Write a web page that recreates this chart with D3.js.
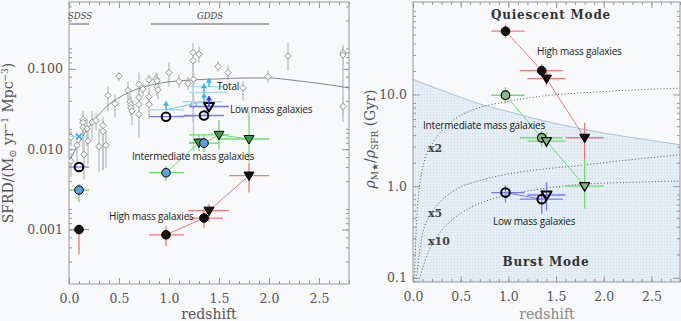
<!DOCTYPE html>
<html>
<head>
<meta charset="utf-8">
<script src="https://cdn.jsdelivr.net/npm/d3@7"></script>
<style>
body{margin:0;background:#f8f9fb;}
svg{display:block;}
.axis path,.axis line{stroke:#999;}
.axis text{font-family:"DejaVu Serif",serif;font-size:12.5px;fill:#555;}
.note{font-family:"Open Sans",sans-serif;font-size:10px;fill:#222;letter-spacing:-0.2px;}
.mode{font-family:"DejaVu Serif",serif;font-size:12px;font-weight:600;fill:#333;letter-spacing:0.8px;}
.fac{font-family:"DejaVu Serif",serif;font-size:11px;font-weight:bold;fill:#444;}
.lab{font-family:"DejaVu Serif",serif;font-size:14px;fill:#555;}
</style>
</head>
<body>
<svg width="681" height="321"></svg>
<script>
// ---- left panel: SFRD compilation (grey diamonds)
var compZ    = [0.02, 0.02, 0.08, 0.14, 0.14, 0.14, 0.15, 0.18, 0.19, 0.23, 0.27, 0.30, 0.34, 0.34, 0.37, 0.39, 0.46, 0.50, 0.59, 0.61, 0.62, 0.62, 0.63, 0.70, 0.70, 0.70, 0.70, 0.74, 0.80, 0.80, 0.80, 0.87, 0.88, 0.88, 0.89, 1.00, 1.10, 1.19, 1.24, 1.24, 1.245, 1.245, 1.30, 1.49, 1.59, 1.74, 1.99, 2.19, 2.74, 2.74, 2.74];
var compSFRD = [0.0141, 0.0071, 0.0112, 0.0233, 0.0215, 0.0187, 0.0086, 0.018, 0.0127, 0.0217, 0.0228, 0.0108, 0.0198, 0.0167, 0.0112, 0.0466, 0.0368, 0.081, 0.054, 0.039, 0.036, 0.033, 0.030, 0.064, 0.044, 0.036, 0.027, 0.056, 0.073, 0.045, 0.036, 0.075, 0.071, 0.060, 0.055, 0.090, 0.070, 0.066, 0.16, 0.127, 0.074, 0.036, 0.152, 0.107, 0.090, 0.058, 0.080, 0.145, 0.159, 0.149, 0.034];
var compLo   = [0.011, 0.0045, 0.006, 0.015, 0.012, 0.008, 0.0042, 0.011, 0.0065, 0.013, 0.017, 0.0052, 0.0055, 0.0055, 0.0058, 0.030, 0.025, 0.070, 0.040, 0.030, 0.028, 0.026, 0.020, 0.048, 0.034, 0.026, 0.014, 0.046, 0.062, 0.034, 0.024, 0.062, 0.055, 0.046, 0.042, 0.060, 0.058, 0.054, 0.090, 0.022, 0.058, 0.0095, 0.120, 0.092, 0.074, 0.040, 0.068, 0.095, 0.025, 0.110, 0.022];
var compHi   = [0.017, 0.009, 0.016, 0.030, 0.028, 0.024, 0.012, 0.024, 0.018, 0.030, 0.028, 0.018, 0.025, 0.022, 0.017, 0.060, 0.048, 0.092, 0.070, 0.050, 0.046, 0.042, 0.040, 0.090, 0.056, 0.046, 0.040, 0.066, 0.085, 0.058, 0.048, 0.090, 0.088, 0.075, 0.070, 0.120, 0.085, 0.080, 0.21, 0.170, 0.092, 0.050, 0.190, 0.125, 0.110, 0.070, 0.095, 0.21, 0.20, 0.19, 0.046];

// fit through the compilation
var fitZ    = [0.0, 0.1, 0.2, 0.3, 0.4, 0.5, 0.6, 0.8, 1.0, 1.25, 1.5, 1.75, 2.0, 2.25, 2.5, 2.8];
var fitSFRD = [0.007, 0.012, 0.019, 0.027, 0.036, 0.044, 0.051, 0.062, 0.069, 0.073, 0.075, 0.077, 0.077, 0.072, 0.066, 0.058];

var surveyName = ['SDSS', 'GDDS'];
var surveyZ0 = [0.0, 0.82];
var surveyZ1 = [0.2, 2.0];

// mass bins, left panel (SFRD)
var totZ = [0.1, 0.97, 1.35, 1.35, 1.4];
var totV = [0.0144, 0.031, 0.039, 0.051, 0.060];
var totZlo = [0.0, 0.8, 1.14, 1.2, 1.2];
var totZhi = [0.2, 1.15, 1.54, 1.59, 1.59];

var lowZ = [0.1, 0.97, 1.35, 1.4];
var lowV = [0.0060, 0.0254, 0.0263, 0.034];
var lowZlo = [0.0, 0.8, 1.15, 1.2];
var lowZhi = [0.2, 1.15, 1.55, 1.6];
var lowShape = ['c', 'c', 'c', 't'];

var midZ = [0.1, 0.97, 1.3, 1.35, 1.5, 1.8];
var midV = [0.0031, 0.0051, 0.0121, 0.0119, 0.0151, 0.0134];
var midZlo = [0.0, 0.8, 1.2, 1.2, 1.2, 1.5];
var midZhi = [0.2, 1.15, 1.4, 1.5, 1.6, 2.0];
var midVlo = [0.0022, 0.0040, 0.0095, 0.0092, 0.0099, 0.0070];
var midVhi = [0.0037, 0.0062, 0.015, 0.015, 0.023, 0.0295];
var midShape = ['c', 'c', 't', 'c', 't', 't'];

var hiZ = [0.1, 0.97, 1.35, 1.4, 1.8];
var hiV = [0.0010, 0.00086, 0.00139, 0.00172, 0.0047];
var hiZlo = [0.0, 0.8, 1.19, 1.19, 1.6];
var hiZhi = [0.2, 1.15, 1.54, 1.6, 2.0];
var hiVlo = [0.00049, 0.00063, 0.00105, 0.00125, 0.0029];
var hiVhi = [0.00115, 0.0011, 0.0018, 0.0021, 0.0068];
var hiShape = ['c', 'c', 'c', 't', 't'];

// ---- right panel: rho_M / rho_SFR (Gyr)
var rHiZ = [0.97, 1.35, 1.4, 1.8];
var rHiV = [49, 18.2, 14.9, 3.37];
var rHiZlo = [0.82, 1.12, 1.2, 1.6];
var rHiZhi = [1.17, 1.57, 1.6, 2.0];
var rHiVlo = [41, 15.5, 12.5, 1.97];
var rHiVhi = [58, 21.5, 18, 4.9];
var rHiShape = ['c', 'c', 't', 't'];

var rMidZ = [0.97, 1.35, 1.4, 1.8];
var rMidV = [9.8, 3.37, 3.1, 1.0];
var rMidZlo = [0.82, 1.12, 1.2, 1.6];
var rMidZhi = [1.17, 1.57, 1.6, 2.0];
var rMidVlo = [8.0, 2.7, 2.6, 0.57];
var rMidVhi = [12, 4.0, 3.8, 1.97];
var rMidShape = ['c', 'c', 't', 't'];

var rLowZ = [0.97, 1.35, 1.4];
var rLowV = [0.85, 0.72, 0.80];
var rLowZlo = [0.82, 1.12, 1.2];
var rLowZhi = [1.17, 1.57, 1.6];
var rLowVlo = [0.66, 0.50, 0.54];
var rLowVhi = [1.02, 0.92, 1.1];
var rLowShape = ['c', 'c', 't'];

// upper edge of the shaded burst region
var edgeZ = [0, 0.25, 0.5, 0.75, 1.0, 1.5, 2.0, 2.5, 2.8];
var edgeV = [14.6, 11.6, 9.3, 7.6, 6.5, 4.8, 3.8, 3.15, 2.83];

// dotted growth curves
var x2Z = [0.012, 0.05, 0.125, 0.21, 0.3, 0.45, 0.63, 1.0, 1.33, 2.03, 2.8];
var x2V = [0.09, 0.65, 1.97, 3.0, 4.0, 5.5, 6.8, 8.4, 9.5, 10.8, 11.7];
var x5Z = [0.03, 0.1, 0.18, 0.3, 0.46, 0.7, 0.99, 1.4, 1.7, 2.2, 2.8];
var x5V = [0.09, 0.3, 0.48, 0.7, 0.93, 1.15, 1.35, 1.55, 1.66, 1.9, 2.2];
var x10Z = [0.06, 0.15, 0.25, 0.4, 0.6, 0.9, 1.3, 1.8, 2.3, 2.8];
var x10V = [0.09, 0.18, 0.28, 0.42, 0.58, 0.76, 0.92, 1.05, 1.1, 1.14];

var RED = '#f07a7a', GREEN = '#70dc70', BLUE = '#7a7af0', CYAN = '#6cc8f0';

var svg = d3.select('svg');

var defs = svg.append('defs');
var pat = defs.append('pattern').attr('id', 'dots').attr('patternUnits', 'userSpaceOnUse')
	.attr('width', 3).attr('height', 3);
pat.append('rect').attr('width', 3).attr('height', 3).attr('fill', '#e4eef4');
pat.append('rect').attr('x', 1).attr('y', 1).attr('width', 1).attr('height', 1).attr('fill', '#cddde7');

defs.append('clipPath').attr('id', 'clipL').append('rect')
	.attr('x', 69).attr('y', 2).attr('width', 280).attr('height', 282);
defs.append('clipPath').attr('id', 'clipR').append('rect')
	.attr('x', 413).attr('y', 2).attr('width', 267).attr('height', 280);

var xL = d3.scaleLinear().domain([0, 2.8]).range([69, 349]);
var yL = d3.scaleLog().domain([0.00021, 0.68]).range([284, 2]);
var xR = d3.scaleLinear().domain([0, 2.8]).range([413, 680]);
var yR = d3.scaleLog().domain([0.09, 102]).range([282, 2]);

function frame(x, y, majorY, fmt, minorY) {
	var x0 = x.range()[0], x1 = x.range()[1], y0 = y.range()[0], y1 = y.range()[1];
	var g = svg.append('g').attr('class', 'axis');
	var majX = [0, 0.5, 1, 1.5, 2, 2.5];
	var minX = d3.range(0, 2.81, 0.1);
	g.append('g').attr('transform', 'translate(0,' + y0 + ')')
		.call(d3.axisBottom(x).tickValues(minX).tickSize(-3).tickFormat(''));
	g.append('g').attr('transform', 'translate(0,' + y0 + ')')
		.call(d3.axisBottom(x).tickValues(majX).tickSize(-6).tickPadding(10).tickFormat(d3.format('.1f')));
	g.append('g').attr('transform', 'translate(0,' + y1 + ')')
		.call(d3.axisTop(x).tickValues(minX).tickSize(-3).tickFormat(''));
	g.append('g').attr('transform', 'translate(0,' + y1 + ')')
		.call(d3.axisTop(x).tickValues(majX).tickSize(-6).tickFormat(''));
	g.append('g').attr('transform', 'translate(' + x0 + ',0)')
		.call(d3.axisLeft(y).tickValues(minorY).tickSize(-3).tickFormat(''));
	g.append('g').attr('transform', 'translate(' + x0 + ',0)')
		.call(d3.axisLeft(y).tickValues(majorY).tickSize(-7).tickPadding(6).tickFormat(fmt));
	g.append('g').attr('transform', 'translate(' + x1 + ',0)')
		.call(d3.axisRight(y).tickValues(minorY).tickSize(-3).tickFormat(''));
	g.append('g').attr('transform', 'translate(' + x1 + ',0)')
		.call(d3.axisRight(y).tickValues(majorY).tickSize(-7).tickFormat(''));
	g.selectAll('.domain').remove();
	g.append('rect').attr('x', x0).attr('y', y1).attr('width', x1 - x0).attr('height', y0 - y1)
		.attr('fill', 'none').attr('stroke', '#999');
}

function minors(lo, hi) {
	var out = [];
	for (var d = lo; d < hi; d *= 10) {
		for (var k = 2; k < 10; k++) out.push(d * k);
	}
	return out;
}

function marker(g, cx, cy, shape, fill, stroke, sw) {
	if (shape == 'c') {
		g.append('circle').attr('cx', cx).attr('cy', cy).attr('r', 4.3)
			.attr('fill', fill).attr('stroke', stroke).attr('stroke-width', sw);
	} else {
		g.append('path').attr('d', 'M' + (cx - 5) + ',' + (cy - 3.5) + 'L' + (cx + 5) + ',' + (cy - 3.5) + 'L' + cx + ',' + (cy + 5) + 'Z')
			.attr('fill', fill).attr('stroke', stroke).attr('stroke-width', sw).attr('stroke-linejoin', 'round');
	}
}

function arrowUp(g, cx, cy, len, col) {
	g.append('line').attr('x1', cx).attr('x2', cx).attr('y1', cy).attr('y2', cy - len)
		.attr('stroke', col).attr('stroke-width', 1.5);
	g.append('path').attr('d', 'M' + (cx - 3) + ',' + (cy - len + 4) + 'L' + (cx + 3) + ',' + (cy - len + 4) + 'L' + cx + ',' + (cy - len - 1) + 'Z')
		.attr('fill', col);
}

// draw one mass bin: error bars, connecting line (skipping z~0.1 point), markers
function series(g, x, y, s) {
	var n = s.z.length;
	var pts = [];
	for (var i = 0; i < n; i++) {
		if (s.z[i] > 0.5) pts.push([x(s.z[i]), y(s.v[i])]);
	}
	pts.sort(function(a, b) { return a[0] - b[0]; });
	g.append('path').attr('d', d3.line()(pts)).attr('fill', 'none')
		.attr('stroke', s.col).attr('stroke-width', 1);
	for (var i = 0; i < n; i++) {
		var cx = x(s.z[i]), cy = y(s.v[i]);
		g.append('line').attr('x1', x(s.zlo[i])).attr('x2', x(s.zhi[i])).attr('y1', cy).attr('y2', cy)
			.attr('stroke', s.col).attr('stroke-width', 1.3);
		if (s.vlo) {
			g.append('line').attr('x1', cx).attr('x2', cx).attr('y1', y(s.vlo[i])).attr('y2', y(s.vhi[i]))
				.attr('stroke', s.col).attr('stroke-width', 1.3);
		}
	}
	for (var i = 0; i < n; i++) {
		var cx = x(s.z[i]), cy = y(s.v[i]);
		var sh = s.shape ? s.shape[i] : 'c';
		var f = sh == 't' ? s.tfill : s.fill;
		marker(g, cx, cy, sh, f, '#000', s.sw);
	}
}

// ================= LEFT PANEL =================
frame(xL, yL, [0.001, 0.01, 0.1], d3.format('.3f'), minors(0.0002, 0.68).filter(function(v){ return v >= 0.00021 && v <= 0.68; }));

var gl = svg.append('g').attr('clip-path', 'url(#clipL)');

// survey ranges
for (var i = 0; i < surveyName.length; i++) {
	gl.append('line').attr('x1', xL(surveyZ0[i])).attr('x2', xL(surveyZ1[i])).attr('y1', 24).attr('y2', 24)
		.attr('stroke', '#aaa').attr('stroke-width', 2);
	svg.append('text').attr('x', (xL(surveyZ0[i]) + xL(surveyZ1[i])) / 2 + (i == 0 ? 1 : 0)).attr('y', 19)
		.attr('text-anchor', 'middle').style('font-family', '"DejaVu Serif",serif').style('font-style', 'italic')
		.style('font-size', '8.5px').style('fill', '#444').text(surveyName[i]);
}

// compilation error bars + diamonds
for (var i = 0; i < compZ.length; i++) {
	gl.append('line').attr('x1', xL(compZ[i])).attr('x2', xL(compZ[i]))
		.attr('y1', yL(compLo[i])).attr('y2', yL(compHi[i]))
		.attr('stroke', '#c4c4c4').attr('stroke-width', 1.5);
}
gl.append('path').datum(d3.range(fitZ.length))
	.attr('d', d3.line().curve(d3.curveMonotoneX).x(function(i){ return xL(fitZ[i]); }).y(function(i){ return yL(fitSFRD[i]); }))
	.attr('fill', 'none').attr('stroke', '#777').attr('stroke-width', 0.9);
for (var i = 0; i < compZ.length; i++) {
	var cx = xL(compZ[i]), cy = yL(compSFRD[i]);
	gl.append('path').attr('d', 'M' + cx + ',' + (cy - 3.2) + 'L' + (cx + 3.2) + ',' + cy + 'L' + cx + ',' + (cy + 3.2) + 'L' + (cx - 3.2) + ',' + cy + 'Z')
		.attr('fill', '#f8f9fb').attr('stroke', '#888').attr('stroke-width', 0.9);
}

// total (lower limits)
for (var i = 0; i < totZ.length; i++) {
	var cx = xL(totZ[i]), cy = yL(totV[i]);
	gl.append('line').attr('x1', xL(totZlo[i])).attr('x2', xL(totZhi[i])).attr('y1', cy).attr('y2', cy)
		.attr('stroke', '#a8dcf4').attr('stroke-width', 1.3);
}
gl.append('path').attr('d', d3.line()([[xL(totZ[1]), yL(totV[1])], [xL(totZ[2]), yL(totV[2])]]))
	.attr('stroke', CYAN).attr('fill', 'none');
gl.append('path').attr('d', 'M' + (xL(totZ[0]) - 3) + ',' + (yL(totV[0]) - 3) + 'l6,6M' + (xL(totZ[0]) + 3) + ',' + (yL(totV[0]) - 3) + 'l-6,6')
	.attr('stroke', '#3aa6e0').attr('stroke-width', 1.5);
for (var i = 1; i < totZ.length; i++) {
	arrowUp(gl, xL(totZ[i]), yL(totV[i]), 8, '#3ab4ea');
}

series(gl, xL, yL, {z: lowZ, v: lowV, zlo: lowZlo, zhi: lowZhi, col: BLUE, shape: lowShape, fill: 'none', tfill: 'none', sw: 2});
arrowUp(gl, xL(1.4), yL(lowV[3]), 10, '#3a3ae0');
series(gl, xL, yL, {z: midZ, v: midV, zlo: midZlo, zhi: midZhi, vlo: midVlo, vhi: midVhi, col: GREEN, shape: midShape, fill: '#5ea0dc', tfill: '#3e9a4a', sw: 1});
series(gl, xL, yL, {z: hiZ, v: hiV, zlo: hiZlo, zhi: hiZhi, vlo: hiVlo, vhi: hiVhi, col: RED, shape: hiShape, fill: '#111', tfill: '#111', sw: 1});

svg.append('text').attr('class', 'note').attr('x', 217).attr('y', 90).text('Total');
svg.append('text').attr('class', 'note').attr('x', 230).attr('y', 113).text('Low mass galaxies');
svg.append('text').attr('class', 'note').attr('x', 132).attr('y', 160).text('Intermediate mass galaxies');
svg.append('text').attr('class', 'note').attr('x', 109).attr('y', 220).text('High mass galaxies');

svg.append('text').attr('class', 'lab').attr('x', 209).attr('y', 319).attr('text-anchor', 'middle').text('redshift');
var yl = svg.append('text').attr('class', 'lab').attr('text-anchor', 'middle')
	.attr('transform', 'translate(13,143) rotate(-90)');
yl.append('tspan').text('SFRD/(M');
yl.append('tspan').attr('dy', 3).style('font-size', '10px').text('\u2299');
yl.append('tspan').attr('dy', -3).text(' yr');
yl.append('tspan').attr('dy', -5).style('font-size', '9px').text('\u22121');
yl.append('tspan').attr('dy', 5).text(' Mpc');
yl.append('tspan').attr('dy', -5).style('font-size', '9px').text('\u22123');
yl.append('tspan').attr('dy', 5).text(')');

// ================= RIGHT PANEL =================
var gr = svg.append('g').attr('clip-path', 'url(#clipR)');
var edgePts = edgeZ.map(function(z, i){ return [xR(z), yR(edgeV[i])]; });
var area = edgePts.concat([[xR(2.8), 282], [xR(0), 282]]);
gr.append('path').attr('d', d3.line().curve(d3.curveLinear)(area) + 'Z').attr('fill', 'url(#dots)');
gr.append('path').attr('d', d3.line().curve(d3.curveMonotoneX)(edgePts)).attr('fill', 'none')
	.attr('stroke', '#a8c4d6').attr('stroke-width', 1);

[[x2Z, x2V], [x5Z, x5V], [x10Z, x10V]].forEach(function(c) {
	var p = c[0].map(function(z, i){ return [xR(z), yR(c[1][i])]; });
	gr.append('path').attr('d', d3.line().curve(d3.curveMonotoneX)(p)).attr('fill', 'none')
		.attr('stroke', '#555').attr('stroke-width', 1).attr('stroke-dasharray', '1,2.2');
});

frame(xR, yR, [0.1, 1, 10], d3.format('.1f'), minors(0.09, 102).filter(function(v){ return v >= 0.09 && v <= 102; }));

series(gr, xR, yR, {z: rHiZ, v: rHiV, zlo: rHiZlo, zhi: rHiZhi, vlo: rHiVlo, vhi: rHiVhi, col: RED, shape: rHiShape, fill: '#111', tfill: '#111', sw: 1});
series(gr, xR, yR, {z: rMidZ, v: rMidV, zlo: rMidZlo, zhi: rMidZhi, vlo: rMidVlo, vhi: rMidVhi, col: GREEN, shape: rMidShape, fill: '#86b886', tfill: '#86b886', sw: 1.2});
series(gr, xR, yR, {z: rLowZ, v: rLowV, zlo: rLowZlo, zhi: rLowZhi, vlo: rLowVlo, vhi: rLowVhi, col: BLUE, shape: rLowShape, fill: 'none', tfill: 'none', sw: 2});

svg.append('text').attr('class', 'mode').attr('x', 551).attr('y', 19).attr('text-anchor', 'middle').text('Quiescent Mode');
svg.append('text').attr('class', 'mode').attr('x', 546).attr('y', 266).attr('text-anchor', 'middle').text('Burst Mode');
svg.append('text').attr('class', 'note').attr('x', 537).attr('y', 55).text('High mass galaxies');
svg.append('text').attr('class', 'note').attr('x', 423).attr('y', 129).text('Intermediate mass galaxies');
svg.append('text').attr('class', 'note').attr('x', 493).attr('y', 225).text('Low mass galaxies');
svg.append('text').attr('class', 'fac').attr('x', 428).attr('y', 152).text('x2');
svg.append('text').attr('class', 'fac').attr('x', 428).attr('y', 217).text('x5');
svg.append('text').attr('class', 'fac').attr('x', 428).attr('y', 245).text('x10');

svg.append('text').attr('class', 'lab').attr('x', 547).attr('y', 319).attr('text-anchor', 'middle').style('fill', '#888').text('redshift');
var yr = svg.append('text').attr('class', 'lab').attr('text-anchor', 'middle')
	.attr('transform', 'translate(375,139) rotate(-90)');
yr.append('tspan').style('font-style', 'italic').text('\u03C1');
yr.append('tspan').attr('dy', 3).style('font-size', '9px').text('M\u2605');
yr.append('tspan').attr('dy', -3).text('/');
yr.append('tspan').style('font-style', 'italic').text('\u03C1');
yr.append('tspan').attr('dy', 3).style('font-size', '9px').text('SFR');
yr.append('tspan').attr('dy', -3).text(' (Gyr)');
</script>
</body>
</html>
